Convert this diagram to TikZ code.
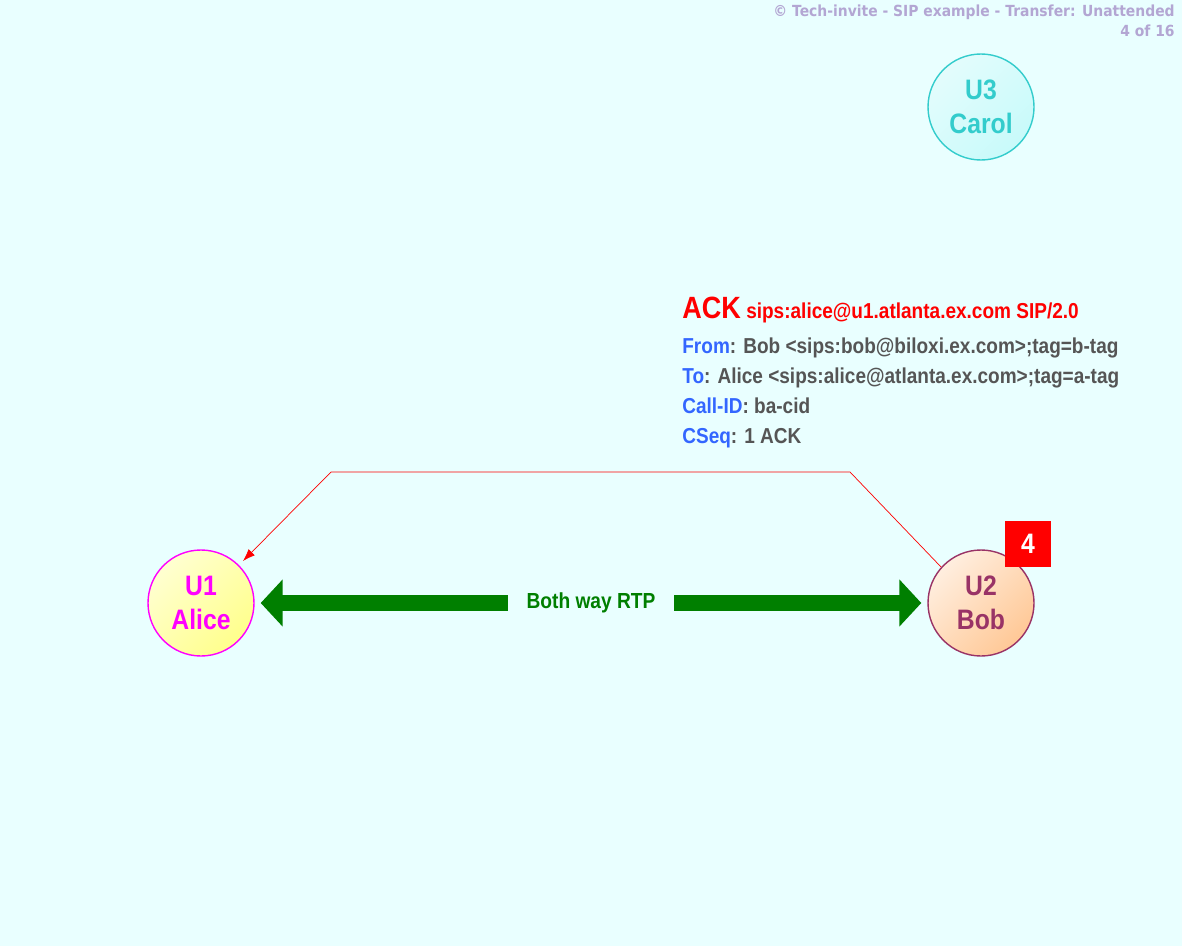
\documentclass[tikz,border=0pt]{standalone}
\usepackage{fontspec}
\setmainfont{Liberation Sans}[FakeStretch=0.88]
\newfontfamily\kopffont{DejaVu Sans}[FakeStretch=0.91]
\usetikzlibrary{arrows.meta}
\usetikzlibrary{positioning}
\definecolor{hgrund}{HTML}{E9FFFF}
\definecolor{kopf}{HTML}{B3A6D3}
\definecolor{feld}{HTML}{3366FF}
\definecolor{wert}{HTML}{555555}
\definecolor{rtp}{HTML}{007F00}
\definecolor{alicerand}{HTML}{FF00FF}
\definecolor{alicefill}{HTML}{FFFF8C}
\definecolor{bobrand}{HTML}{993366}
\definecolor{bobfill}{HTML}{FFC896}
\definecolor{carolrand}{HTML}{33CCCC}
\definecolor{carolfill}{HTML}{C8FAFA}
\definecolor{signalrot}{HTML}{FF0000}
\tikzset{
  Teilnehmer/.style={circle, minimum size=106*0.02cm, inner sep=0pt, thick,
    align=center, font=\fontsize{16}{19}\selectfont\bfseries}, % für Kreise
  Kopfzeile/.style={anchor=north east, inner sep=0pt, text=kopf,
    font=\kopffont\fontsize{8.7}{11.3}\selectfont\bfseries, align=right},
  Zeile/.style={anchor=base west, inner sep=0pt, text=wert,
    font=\fontsize{12.3}{14}\selectfont\bfseries}, % für Kopfzeilen der Nachricht
  SIPPfeil/.style={signalrot, thin, -{Latex[length=7pt,width=5pt]}},
  RTPPfeil/.style={rtp, line width=16*0.02cm, shorten >=6*0.02cm,
    -{Triangle[length=22*0.02cm,width=46*0.02cm]}}
}
\newcommand{\Feld}[1]{\textcolor{feld}{#1}}
\begin{document}
\begin{tikzpicture}[x=0.02cm, y=-0.02cm]
\fill[hgrund] (0,0) rectangle (1182,946);
\useasboundingbox (0,0) rectangle (1182,946);

%Kopfzeile
\node[Kopfzeile] (titel) at (1175,5) {\textcopyright\ Tech-invite - SIP example - Transfer: Unattended\\4 of 16};

%Teilnehmer
\node[Teilnehmer, draw=alicerand, text=alicerand, top color=alicefill!40,
  bottom color=alicefill, shading angle=45] (Alice) at (201,603) {U1\\Alice};
\node[Teilnehmer, draw=bobrand, text=bobrand, top color=bobfill!30,
  bottom color=bobfill, shading angle=45] (Bob) at (981,603) {U2\\Bob};
\node[Teilnehmer, draw=carolrand, text=carolrand, top color=carolfill!50!white,
  bottom color=carolfill, shading angle=45] (Carol) at (981,107) {U3\\Carol};

%Schritt
\node[fill=signalrot, text=white, minimum size=46*0.02cm, inner sep=0pt,
  font=\fontsize{16}{19}\selectfont\bfseries] (schritt) at (1028,544) {4};

%Nachricht
\node[Zeile, text=signalrot] (ack) at (682,318)
  {{\fontsize{17.5}{20}\selectfont ACK} sips:alice@u1.atlanta.ex.com SIP/2.0};
\node[Zeile] (from) at (682,353) {\Feld{From}: Bob <sips:bob@biloxi.ex.com>;tag=b-tag};
\node[Zeile] (to) at (682,383) {\Feld{To}: Alice <sips:alice@atlanta.ex.com>;tag=a-tag};
\node[Zeile] (callid) at (682,413) {\Feld{Call-ID}: ba-cid};
\node[Zeile] (cseq) at (682,443) {\Feld{CSeq}: 1 ACK};

\coordinate (knickB) at (850,472);
\coordinate (knickA) at (331,472);
\draw[SIPPfeil] (Bob.138) -- (knickB) -- (knickA) -- ([shift={(4,-4)}]Alice.45);

%Medienstrom
\node[text=rtp, inner sep=0pt, minimum width=166*0.02cm,
  font=\fontsize{12.4}{14}\selectfont\bfseries] (rtp) at (591,603) {Both way RTP};
\draw[RTPPfeil] (rtp.west) -- (Alice.east);
\draw[RTPPfeil] (rtp.east) -- (Bob.west);
\end{tikzpicture}
\end{document}
